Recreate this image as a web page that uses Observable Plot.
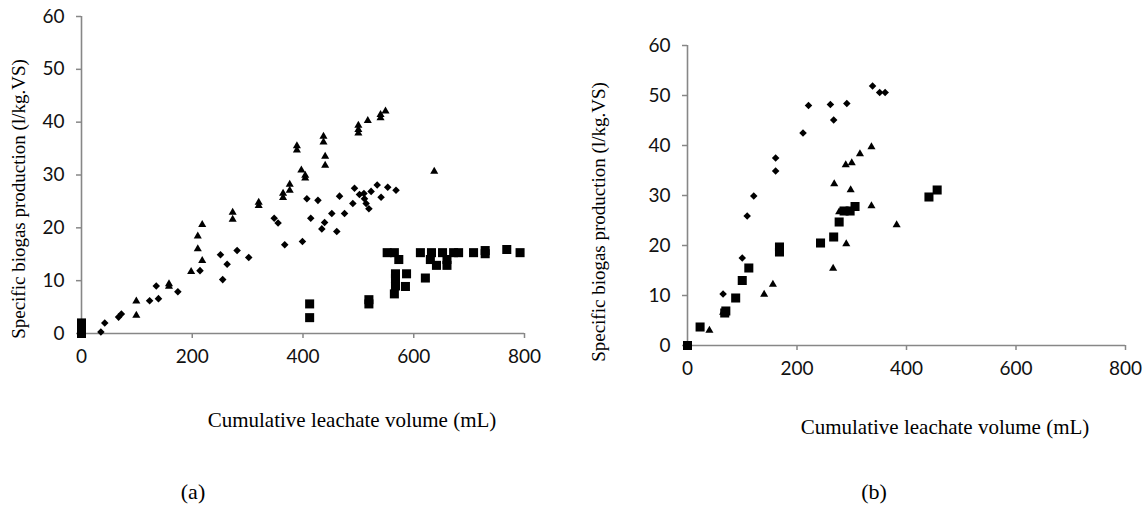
<!DOCTYPE html>
<html><head><meta charset="utf-8">
<script src="https://cdn.jsdelivr.net/npm/d3@7"></script>
<script src="https://cdn.jsdelivr.net/npm/@observablehq/plot@0.6"></script>
<style>
body{margin:0;background:#fff;}
#wrap{position:relative;width:1145px;height:508px;overflow:hidden;background:#fff;}
#wrap svg{position:absolute;top:0;overflow:visible;}
.lbl{position:absolute;font-family:"Liberation Serif","Times New Roman",serif;color:#000;white-space:nowrap;transform:translate(-50%,-50%);line-height:1;}
.ylbl{transform:translate(-50%,-50%) rotate(-90deg);}
</style></head><body><div id="wrap"></div>
<script>
// ---------- tick labels ----------
const xTicks = [0, 200, 400, 600, 800];
const yTicks = [0, 10, 20, 30, 40, 50, 60];
const xTitle = "Cumulative leachate volume (mL)";
const yTitle = "Specific biogas production (l/kg.VS)";
const panelTags = ["(a)", "(b)"];

// ---------- panel (a) ----------
const aDiamondX = [35,42,67,72,123,139,135,174,214,251,255,263,281,302,348,355,367,399,407,427,414,439,434,452,461,466,475,490,493,502,510,511,514,519,523,534,541,553,568];
const aDiamondY = [0.3,2.0,3.1,3.7,6.2,6.6,9.0,7.9,11.9,14.9,10.2,13.1,15.7,14.4,21.8,20.9,16.8,17.4,25.5,25.2,21.8,21.0,19.8,22.7,19.3,26.0,22.7,24.6,27.5,26.3,26.5,25.5,24.6,23.6,26.9,28.1,25.8,27.7,27.1];
const aTriangleX = [99,99,158,158,198,210,210,218,218,273,273,320,320,364,364,376,376,389,389,397,404,404,437,437,440,440,500,500,500,517,540,540,549,637];
const aTriangleY = [6.1,3.4,9.4,8.9,11.7,18.4,16.0,13.8,20.6,22.9,21.6,24.8,24.2,26.5,25.7,28.2,27.1,35.5,34.7,30.9,29.9,29.4,37.3,36.2,33.5,31.8,39.4,38.6,37.9,40.3,41.4,40.8,42.1,30.7];
const aSquareX = [0,0,0,0,412,412,519,519,552,565,573,567,567,567,587,585,565,612,621,632,630,641,652,660,660,672,681,708,729,729,768,792];
const aSquareY = [0,0.7,1.4,2.0,5.6,3.0,6.4,5.6,15.3,15.3,14.0,11.3,10.4,9.0,11.3,8.9,7.5,15.3,10.5,15.3,14.0,12.9,15.3,14.0,12.9,15.3,15.3,15.3,15.7,15.1,15.9,15.3];

// ---------- panel (b) ----------
const bDiamondX = [65,100,109,121,161,161,211,221,261,267,291,338,351,361];
const bDiamondY = [10.3,17.5,25.9,29.9,37.5,34.9,42.5,48.0,48.2,45.1,48.4,51.9,50.6,50.6];
const bTriangleX = [40,65,140,156,266,268,277,290,298,289,300,315,336,336,382];
const bTriangleY = [3.0,6.6,10.2,12.2,15.4,32.3,26.7,20.3,31.1,36.1,36.5,38.3,39.7,27.9,24.1];
const bSquareX = [0,23,68,70,88,100,112,168,168,243,267,277,286,297,306,441,456];
const bSquareY = [0,3.7,6.5,6.9,9.5,13.0,15.5,19.7,18.7,20.5,21.7,24.7,26.9,26.9,27.8,29.7,31.1];

const zip = (xs, ys) => xs.map((x, i) => ({x, y: ys[i]}));
const gray = "#878787";

function panel({diamonds, triangles, squares, left, marginLeft, marginTop, innerW, innerH}) {
  const marginRight = 20, marginBottom = 50;
  const svg = Plot.plot({
    width: marginLeft + innerW + marginRight,
    height: marginTop + innerH + marginBottom,
    marginLeft, marginTop, marginRight, marginBottom,
    style: {fontFamily: "Lato, sans-serif", fontSize: "19px", background: "transparent", overflow: "visible"},
    x: {domain: [0, 800]},
    y: {domain: [0, 60]},
    marks: [
      Plot.axisX(xTicks, {tickSize: 5, tickPadding: 11, stroke: gray, strokeWidth: 1.5, fill: "#111", label: null}),
      Plot.axisY(yTicks, {tickSize: 5, tickPadding: 12, stroke: gray, strokeWidth: 1.5, fill: "#111", label: null}),
      Plot.ruleY([0], {stroke: gray, strokeWidth: 1.6}),
      Plot.ruleX([0], {stroke: gray, strokeWidth: 1.6}),
      Plot.dot(diamonds, {x: "x", y: "y", symbol: "diamond2", r: 3.4, fill: "black", stroke: "none"}),
      Plot.dot(triangles, {x: "x", y: "y", symbol: "triangle", r: 3.0, fill: "black", stroke: "none"}),
      Plot.dot(squares, {x: "x", y: "y", symbol: "square", r: 5.1, fill: "black", stroke: "none"})
    ]
  });
  svg.style.left = left + "px";
  return svg;
}

const wrap = document.getElementById("wrap");
wrap.appendChild(panel({
  diamonds: zip(aDiamondX, aDiamondY), triangles: zip(aTriangleX, aTriangleY), squares: zip(aSquareX, aSquareY),
  left: 0, marginLeft: 81, marginTop: 16, innerW: 443, innerH: 317
}));
wrap.appendChild(panel({
  diamonds: zip(bDiamondX, bDiamondY), triangles: zip(bTriangleX, bTriangleY), squares: zip(bSquareX, bSquareY),
  left: 600, marginLeft: 87, marginTop: 45, innerW: 438, innerH: 300
}));

function label(text, cx, cy, size, rotate) {
  const d = document.createElement("div");
  d.className = "lbl" + (rotate ? " ylbl" : "");
  d.textContent = text;
  d.style.left = cx + "px";
  d.style.top = cy + "px";
  d.style.fontSize = size + "px";
  wrap.appendChild(d);
}
label(yTitle, 18, 199, 19, true);
label(yTitle, 598, 222, 19, true);
label(xTitle, 352, 420, 21, false);
label(xTitle, 945, 427, 21, false);
label(panelTags[0], 193, 492, 22, false);
label(panelTags[1], 874, 492, 22, false);
</script></body></html>
